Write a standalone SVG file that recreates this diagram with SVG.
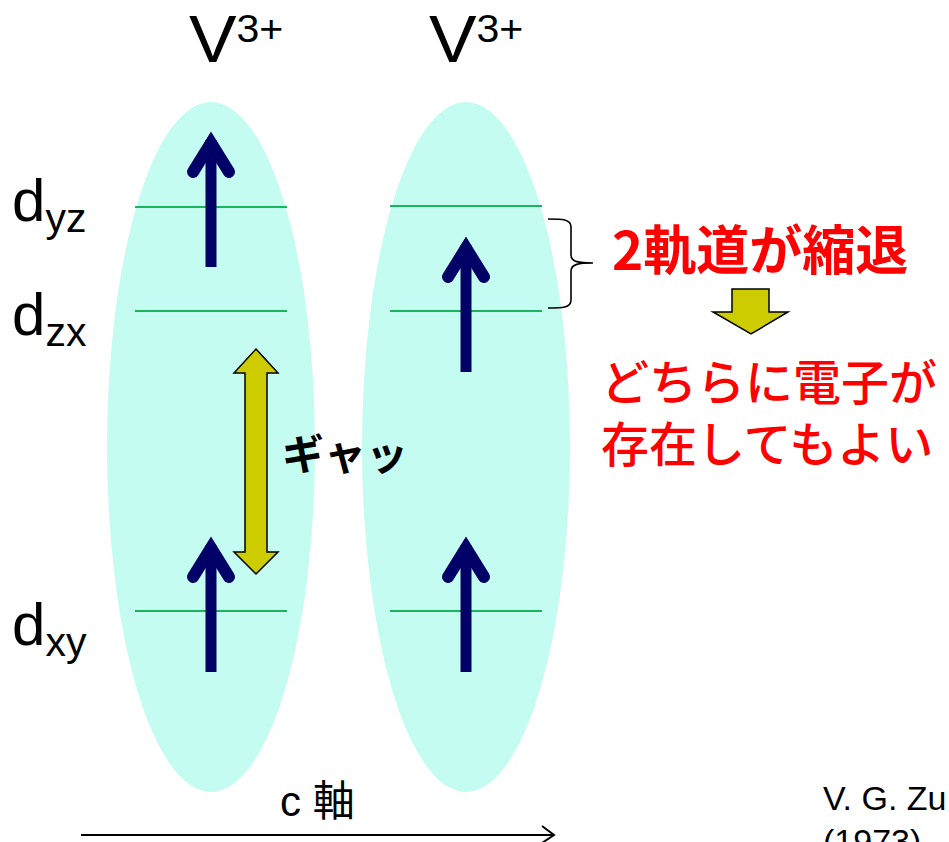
<svg xmlns="http://www.w3.org/2000/svg" width="949" height="842" viewBox="0 0 949 842">
<style>
.ell{fill:#c4fcf2;stroke:none}
.lvl{stroke:#1cb35e;stroke-width:2.2;fill:none}
.shaft{stroke:#000066;stroke-width:11;fill:none}
.head{stroke:#000066;stroke-width:12;fill:none;stroke-linecap:round;stroke-linejoin:miter;stroke-miterlimit:10}
.lat{font-family:"Liberation Sans",Arial,sans-serif;fill:#000}
.jp{font-family:"Noto Sans CJK JP","Noto Sans CJK SC",sans-serif}
.yel{fill:#cccc00;stroke:#000;stroke-width:1.5;stroke-linejoin:miter}
</style>
<rect width="949" height="842" fill="#fff"/>

<g id="ion1">
<ellipse class="ell" cx="211" cy="447" rx="104" ry="345"/>
<line class="lvl" x1="135" y1="207" x2="287" y2="207"/>
<line class="lvl" x1="135" y1="311" x2="287" y2="311"/>
<line class="lvl" x1="135" y1="611" x2="287" y2="611"/>
</g>
<g id="ion2">
<ellipse class="ell" cx="466" cy="447" rx="104" ry="345"/>
<line class="lvl" x1="390" y1="206" x2="542" y2="206"/>
<line class="lvl" x1="390" y1="311" x2="542" y2="311"/>
<line class="lvl" x1="390" y1="611" x2="542" y2="611"/>
</g>

<g id="spin1">
<line class="shaft" x1="211" y1="140" x2="211" y2="267"/>
<polyline class="head" points="193,172 211,143 229,172"/>
</g>
<g id="spin2">
<line class="shaft" x1="211" y1="545" x2="211" y2="672"/>
<polyline class="head" points="193,577 211,548 229,577"/>
</g>
<g id="spin3">
<line class="shaft" x1="466" y1="245" x2="466" y2="372"/>
<polyline class="head" points="448,277 466,248 484,277"/>
</g>
<g id="spin4">
<line class="shaft" x1="466" y1="545" x2="466" y2="672"/>
<polyline class="head" points="448,577 466,548 484,577"/>
</g>

<g id="labels-V">
<text class="lat" transform="translate(189,62) scale(1.08,1)" font-size="66">V<tspan font-size="38" dy="-20">3+</tspan></text>
<text class="lat" transform="translate(429,62) scale(1.08,1)" font-size="66">V<tspan font-size="38" dy="-20">3+</tspan></text>
</g>

<g id="labels-d" class="lat">
<text x="12" y="221" font-size="60">d<tspan font-size="41" dy="11">yz</tspan></text>
<text x="12" y="335" font-size="60">d<tspan font-size="41" dy="11">zx</tspan></text>
<text x="12" y="645" font-size="60">d<tspan font-size="41" dy="11">xy</tspan></text>
</g>

<g id="gap">
<polygon class="yel" points="256,349 278,373 267,373 267,552 278,552 256,574 234,552 245,552 245,373 234,373"/>
<text class="jp" x="282" y="470" font-size="42" font-weight="bold" fill="#000">ギャッ</text>
</g>

<g id="brace">
<path d="M548,219 C562,219 571,219 571,227 L571,255 C571,262 579,263 593,263 C579,263 571,264 571,271 L571,300 C571,308 562,308 548,308" fill="none" stroke="#000" stroke-width="1.6"/>
</g>

<g id="degenerate">
<text class="jp" x="612" y="270" font-size="53" font-weight="bold" fill="#ff0000">2軌道が縮退</text>
</g>
<g id="down-arrow">
<polygon class="yel" points="732,289 769,289 769,312 788,312 751,334 713,312 732,312"/>
</g>
<g id="conclusion">
<text class="jp" x="601" y="400" font-size="48" font-weight="500" fill="#ff0000">どちらに電子が</text>
<text class="jp" x="601" y="462" font-size="48" font-weight="500" fill="#ff0000">存在してもよい</text>
</g>

<g id="connectors">
<line x1="81" y1="835" x2="553" y2="835" stroke="#000" stroke-width="2"/>
<polyline points="542,826 554,835 542,843" fill="none" stroke="#000" stroke-width="2"/>
</g>
<g id="axis-label">
<text x="280" y="816" font-size="42" font-family="'Liberation Sans','Noto Sans CJK JP',sans-serif">c 軸</text>
</g>
<g id="ref" class="lat">
<text x="823" y="810" font-size="34">V. G. Zu</text>
<text x="823" y="853" font-size="34">(1973)</text>
</g>
</svg>
